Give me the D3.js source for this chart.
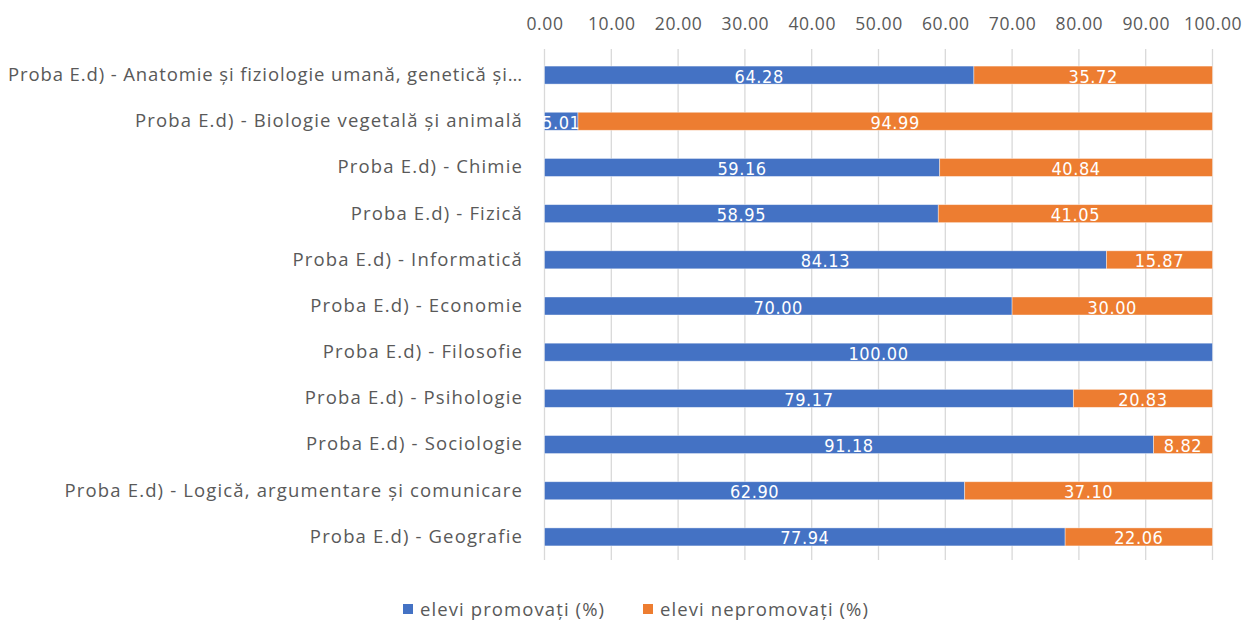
<!DOCTYPE html>
<html><head><meta charset="utf-8">
<script src="https://cdn.jsdelivr.net/npm/d3@7"></script>
<style>body{margin:0;background:#fff}</style></head>
<body><svg id="c" width="1247" height="621"></svg>
<script>
const categories = [
 "Proba E.d) - Anatomie și fiziologie umană, genetică și…",
 "Proba E.d) - Biologie vegetală și animală",
 "Proba E.d) - Chimie",
 "Proba E.d) - Fizică",
 "Proba E.d) - Informatică",
 "Proba E.d) - Economie",
 "Proba E.d) - Filosofie",
 "Proba E.d) - Psihologie",
 "Proba E.d) - Sociologie",
 "Proba E.d) - Logică, argumentare și comunicare",
 "Proba E.d) - Geografie"
];
const promovati = [64.28, 5.01, 59.16, 58.95, 84.13, 70.00, 100.00, 79.17, 91.18, 62.90, 77.94];
const nepromovati = [35.72, 94.99, 40.84, 41.05, 15.87, 30.00, 0, 20.83, 8.82, 37.10, 22.06];
const seriesNames = ["elevi promovați (%)", "elevi nepromovați (%)"];
const tickValues = [0,10,20,30,40,50,60,70,80,90,100];
const colors = ["#4472C4", "#ED7D31"];

const svg = d3.select("#c");
const x = d3.scaleLinear().domain([0,100]).range([544.5, 1212.5]);
const y = d3.scaleBand().domain(categories).range([52, 560]).paddingInner(0.61).paddingOuter(0.305);

const labelFont = "'Liberation Sans Narrow','DejaVu Sans Condensed',sans-serif";
const textFont = "'Open Sans', sans-serif";

// gridlines
svg.append("g").selectAll("line").data(tickValues).join("line")
  .attr("x1", d=>x(d)).attr("x2", d=>x(d)).attr("y1", 49).attr("y2", 560)
  .attr("stroke", "#d9d9d9").attr("stroke-width", 1.3);

// top axis labels
const ax = svg.append("g").attr("transform","translate(0,30)")
  .call(d3.axisTop(x).tickValues(tickValues).tickFormat(d3.format(".2f")).tickSize(0).tickPadding(0));
ax.select(".domain").remove();
ax.selectAll("text").attr("fill","#595959").style("font-family", textFont).style("font-size","17.5px").style("letter-spacing","0.6px");

// category labels
const ay = svg.append("g").attr("transform","translate(523,0)")
  .call(d3.axisLeft(y).tickSize(0).tickPadding(0));
ay.select(".domain").remove();
ay.selectAll("text").attr("fill","#595959").style("font-family", textFont).style("font-size","18.5px").style("letter-spacing","1.15px");
// keep long labels inside the left edge
ay.selectAll("text").each(function(){
  const t = d3.select(this);
  const w = this.getComputedTextLength();
  const maxW = 515;
  if (w > maxW) {
    const n = this.getNumberOfChars();
    const ls = 1.15 - (w - maxW) / n;
    t.style("letter-spacing", ls + "px");
  }
});

const stacked = categories.map((c,i)=>({c, v:[promovati[i], nepromovati[i]]}));
const segs = [];
stacked.forEach(d=>{ let s=0; d.v.forEach((v,k)=>{ segs.push({c:d.c, k, x0:s, x1:s+v, v}); s+=v; }); });

svg.append("g").selectAll("rect").data(segs.filter(d=>d.v>0)).join("rect")
  .attr("x", d=>x(d.x0)).attr("width", d=>x(d.x1)-x(d.x0))
  .attr("y", d=>y(d.c)).attr("height", y.bandwidth())
  .attr("fill", d=>colors[d.k]).attr("stroke","#ffffff").attr("stroke-opacity",0.5).attr("stroke-width",0.8);

svg.append("g").selectAll("text").data(segs.filter(d=>d.v>0)).join("text")
  .attr("x", d=>(x(d.x0)+x(d.x1))/2).attr("y", d=>y(d.c)+y.bandwidth()/2)
  .attr("dy","0.42em").attr("text-anchor","middle")
  .attr("fill","#ffffff").style("font-family", labelFont).style("font-size","18px").style("letter-spacing","0.6px")
  .text(d=>d3.format(".2f")(d.v));

// legend
const lg = svg.append("g");
const lx = [403, 643];
seriesNames.forEach((n,i)=>{
  lg.append("rect").attr("x", lx[i]).attr("y", 604).attr("width", 10).attr("height", 10).attr("fill", colors[i]);
  lg.append("text").attr("x", lx[i]+17).attr("y", 609).attr("dy","0.36em")
    .attr("fill","#595959").style("font-family", textFont).style("font-size","18.5px").style("letter-spacing","1.1px").text(n);
});
</script></body></html>
